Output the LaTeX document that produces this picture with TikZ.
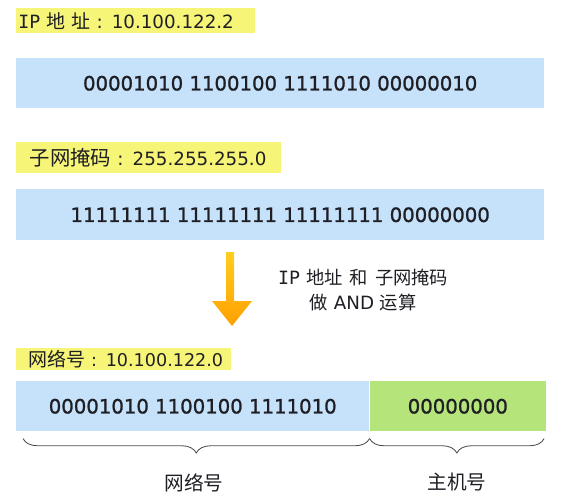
\documentclass[tikz,border=0pt]{standalone}
\usepackage{fontspec}
\setmainfont{DejaVu Sans}
\newfontfamily\zh{Noto Sans CJK SC}
\newfontfamily\mono{DejaVu Sans Mono}
\newfontfamily\bits[FakeBold=1.2]{DejaVu Sans}
\usetikzlibrary{decorations.pathreplacing}
\definecolor{tagyellow}{RGB}{246,245,120}
\definecolor{barblue}{RGB}{197,226,250}
\definecolor{bargreen}{RGB}{180,228,122}
\definecolor{arrowtop}{RGB}{255,206,30}
\definecolor{arrowbot}{RGB}{255,160,0}
\definecolor{ink}{RGB}{30,30,36}
\begin{document}
\begin{tikzpicture}[
        tag/.style={fill=tagyellow, anchor=north west, inner ysep=0pt, align=left,
            text=ink, font=\fontsize{13}{15}\selectfont},
        bar/.style={fill=barblue, anchor=north west, minimum height=1.25cm, inner sep=0pt,
            text=ink, font=\bits\fontsize{14}{16}\selectfont},
        brace/.style={decorate, decoration={brace, mirror, amplitude=0.36cm}, line width=0.6pt, ink!80}
    ]
    \useasboundingbox (0, 0) rectangle (14.05, -12.5);

    \node[tag, text width=5.875cm, inner xsep=0.05cm, minimum height=0.625cm] (ip) at (0.4, -0.2)
        {\mbox{{\mono IP} {\zh\fontsize{13.5}{15}\selectfont 地 址} : 10.100.122.2}};
    \node[bar, minimum width=13.2cm] (ipbits) at (0.4, -1.45) {00001010 1100100 1111010 00000010};

    \node[tag, text width=5.95cm, inner xsep=0.3375cm, minimum height=0.775cm] (mask) at (0.4, -3.55)
        {\mbox{{\zh\fontsize{14.5}{15}\selectfont 子网掩码} : 255.255.255.0}};
    \node[bar, minimum width=13.2cm, minimum height=1.275cm] (maskbits) at (0.4, -4.725) {11111111 11111111 11111111 00000000};

    \shade[top color=arrowtop, bottom color=arrowbot] (5.65, -6.3) -- (5.85, -6.3) -- (5.85, -7.525) -- (6.3, -7.525)
        -- (5.8, -8.15) -- (5.3, -7.525) -- (5.65, -7.525) -- cycle;
    \node[align=center, text=ink, font=\fontsize{13}{18}\selectfont] (op) at (9.08, -7.25)
        {{\mono IP} {\zh 地址 \,和\, 子网掩码}\\{\zh 做} AND {\zh 运算}};

    \node[tag, text width=4.775cm, inner xsep=0.3cm, minimum height=0.55cm, font=\fontsize{12.5}{15}\selectfont] (net) at (0.4, -8.7)
        {\mbox{{\zh\fontsize{13.5}{15}\selectfont 网络号} : 10.100.122.0}};
    \node[bar, minimum width=8.825cm] (netbits) at (0.4, -9.525) {00001010 1100100 1111010};
    \node[bar, fill=bargreen, minimum width=4.4cm] (hostbits) at (netbits.north east) {00000000};

    \draw[brace] ([xshift=0.175cm, yshift=-0.175cm]netbits.south west) -- ([yshift=-0.175cm]netbits.south east);
    \draw[brace] ([yshift=-0.175cm]hostbits.south west) -- ([xshift=-0.05cm, yshift=-0.175cm]hostbits.south east);

    \node[text=ink, font=\zh\fontsize{14}{16}\selectfont] (netlabel) at (4.85, -12.075) {网络号};
    \node[text=ink, font=\zh\fontsize{14}{16}\selectfont] (hostlabel) at (11.425, -12.05) {主机号};
\end{tikzpicture}
\end{document}
